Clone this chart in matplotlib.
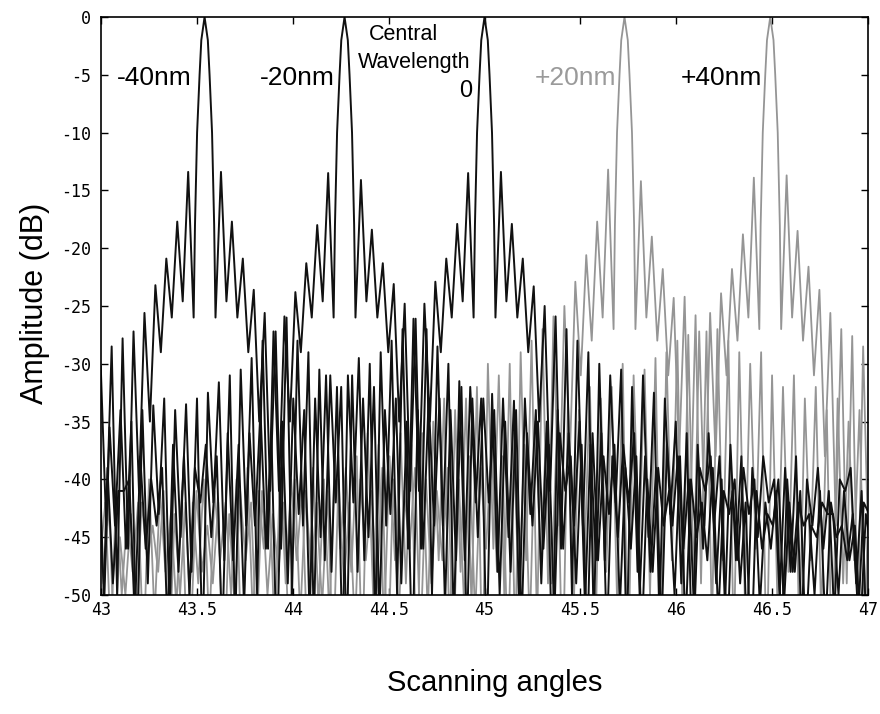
import numpy as np
import matplotlib
matplotlib.use('Agg')
import matplotlib.pyplot as plt

# Picos dos lóbulos laterais (dB), do lóbulo principal para fora
pitch = 0.057  # espaçamento entre lóbulos (graus)
main_lobe_offset = [0.017, 0.026, 0.039, 0.050]
main_lobe_db = [-2, -5, -10, -18]

centers = [43.54, 44.27, 45.0, 45.73, 46.49]

m40_left = [-13.4, -17.7, -20.9, -23.2, -25.6, -27.2, -27.8, -28.5, -30.2, -30.5]
m40_right = [-13.4, -17.7, -20.9, -23.6, -25.6, -27.2, -26.0, -28.0,
             -29, -30.5, -31, -32, -31, -33, -32, -34, -33, -35,
             -34, -33, -33, -34, -32, -33, -33, -34, -35, -34,
             -36, -35, -37, -36, -38, -37, -36, -38, -37, -39,
             -38, -40, -39, -41, -38, -40, -42, -39, -41, -40,
             -42, -41, -43, -40, -42, -41, -44, -42, -43, -41,
             -44, -43, -45]

m20_left = [-13.5, -18, -21.3, -23.8, -25.9, -27.2, -28, -29.5,
            -30.5, -31, -31.6, -32.5, -33, -33.5, -34, -33, -33.6, -34, -35, -34, -35.5, -36, -35]
m20_right = [-14.1, -18.4, -21.3, -23.1, -24.8, -26.1, -27, -28.5,
             -30, -31.5, -32, -33, -32.6, -33, -33.2, -33, -34, -35,
             -34, -36, -35, -37, -36, -38, -37, -36, -38, -39,
             -37, -38, -40, -39, -38, -40, -41, -39, -40, -42,
             -41, -40, -42, -43, -41, -42, -44, -43, -42, -44,
             -45]

c0_left = [-13.5, -17.9, -20.9, -22.9, -24.8, -26.1, -27, -28,
           -29, -30, -29.5, -31, -32, -31, -33, -34, -33, -35,
           -36, -34, -36, -37, -36, -38, -37, -39, -38, -37,
           -39, -40, -38, -40, -41, -39, -40, -42]
c0_right = [-13.4, -17.9, -20.9, -23.3, -25, -25.9, -27, -28,
            -29, -30, -31, -30.5, -32, -31, -32.5, -33, -35, -36,
            -37, -36, -38, -37, -38, -39, -38, -40, -39, -38,
            -40, -39, -41, -40, -39, -41, -40, -42]

p20_left = [-13.2, -17.7, -20.6, -22.9, -25, -25.9, -27, -28,
            -29, -30, -31, -30, -32, -33, -34, -33, -35, -36,
            -37, -36, -38, -37, -36, -38, -39, -38, -40, -39,
            -41, -40, -39, -40, -41, -39, -40, -42, -41, -40,
            -42, -41, -43, -41, -40, -42, -43, -41, -42, -44,
            -42]
p20_right = [-14.2, -19, -21.8, -24.3, -24.2, -25.8, -27.2, -27,
             -28, -29, -30, -29, -31, -32, -31, -33, -32, -34, -33, -35, -34, -35, -36]

p40_left = [-13.9, -18.8, -21.8, -23.9, -25.6, -27.2, -27.5, -28,
            -29, -29.5, -30.5, -31, -30, -32, -33, -32, -34, -33,
            -35, -36, -35, -37, -36, -38, -37, -39, -38, -40,
            -39, -41, -40, -39, -41, -40, -39, -41, -40, -42,
            -40, -41, -42, -41, -40, -42, -43, -41, -42, -41,
            -43, -42, -44, -41, -42, -43, -41, -44, -42, -43,
            -45, -42, -43, -44]
p40_right = [-13.7, -18.5, -21.6, -23.6, -25.6, -27, -27.6, -28.5, -28.5, -29]

# Profundidade dos nulos entre lóbulos
nulls_black = [-26, -24.6, -26, -29, -35, -41, -46, -50, -44, -53, -47, -42, -55, -48, -45, -52,
               -43, -49, -56, -46, -44, -51, -47, -54, -45, -42, -50, -48, -53, -44, -46, -52,
               -41, -49, -55, -47, -43, -51, -46, -54, -48, -44, -50, -53, -45, -47, -52, -43,
               -49, -56, -46, -44, -51, -48, -54, -45, -43, -50, -47, -53, -46, -49, -52, -48]
nulls_gray = [-27, -26, -28, -31, -38, -44, -49, -53, -47, -55, -50, -46, -57, -51, -48, -54,
              -47, -52, -58, -49, -47, -53, -50, -56, -48, -46, -52, -51, -55, -47, -49, -54,
              -46, -52, -57, -50, -47, -53, -49, -56, -51, -48, -52, -55, -48, -50, -54, -47,
              -51, -58, -49, -48, -53, -50, -56, -48, -47, -52, -50, -55, -49, -51, -54, -50]

x_ticks = [43, 43.5, 44, 44.5, 45, 45.5, 46, 46.5, 47]
x_ticklabels = ['43', '43.5', '44', '44.5', '45', '45.5', '46', '46.5', '47']
y_ticks = [0, -5, -10, -15, -20, -25, -30, -35, -40, -45, -50]
y_ticklabels = ['0', '-5', '-10', '-15', '-20', '-25', '-30', '-35', '-40', '-45', '-50']


def lado(peaks, nulls):
    off = list(main_lobe_offset)
    db = list(main_lobe_db)
    for k, pk in enumerate(peaks):
        off += [pitch * (k + 1), pitch * (k + 1.5)]
        db += [nulls[k], pk]
    off.append(pitch * (len(peaks) + 1))
    db.append(nulls[len(peaks)])
    return np.array(off), np.array(db)


def curva(center, left, right, nulls):
    ol, dl = lado(left, nulls)
    orr, dr = lado(right, nulls)
    x = np.concatenate([center - ol[::-1], [center], center + orr])
    y = np.concatenate([dl[::-1], [0.0], dr])
    return x, y


cinza = '#959595'
preto = '#111111'
curvas = [
    (centers[3], p20_left, p20_right, nulls_gray, cinza, 1.3),
    (centers[4], p40_left, p40_right, nulls_gray, cinza, 1.3),
    (centers[0], m40_left, m40_right, nulls_black, preto, 1.4),
    (centers[1], m20_left, m20_right, nulls_black, preto, 1.4),
    (centers[2], c0_left, c0_right, nulls_black, preto, 1.4),
]

fig = plt.figure(figsize=(8.8, 7.14), dpi=100)
ax = fig.add_axes([0.1148, 0.1667, 0.8716, 0.8095])

for c, l, r, n, cor, lw in curvas:
    x, y = curva(c, l, r, n)
    ax.plot(x, y, color=cor, lw=lw)

ax.set_xlim(43, 47)
ax.set_ylim(-50, 0)
ax.set_xticks(x_ticks)
ax.set_xticklabels(x_ticklabels, family='DejaVu Sans Mono', fontsize=12)
ax.set_yticks(y_ticks)
ax.set_yticklabels(y_ticklabels, family='DejaVu Sans Mono', fontsize=12)
ax.tick_params(direction='in', top=True, right=True, length=5, width=1)
ax.tick_params(axis='y', pad=7)
ax.tick_params(axis='x', pad=4)
for s in ax.spines.values():
    s.set_linewidth(1.2)

fonte = 'Liberation Sans'
ax.text(43.276, -5.3, '-40nm', fontsize=19, family=fonte, ha='center', va='center')
ax.text(44.024, -5.3, '-20nm', fontsize=19, family=fonte, ha='center', va='center')
ax.text(44.58, -1.5, 'Central', fontsize=15.5, family=fonte, ha='center', va='center')
ax.text(44.635, -3.9, 'Wavelength', fontsize=15.5, family=fonte, ha='center', va='center')
ax.text(44.90, -6.4, '0', fontsize=17, family=fonte, ha='center', va='center')
ax.text(45.475, -5.3, '+20nm', fontsize=19, family=fonte, ha='center', va='center', color='#9a9a9a')
ax.text(46.236, -5.3, '+40nm', fontsize=19, family=fonte, ha='center', va='center')

fig.text(0.040, 0.575, 'Amplitude (dB)', rotation=90, fontsize=22, family=fonte,
         ha='center', va='center')
fig.text(0.562, 0.043, 'Scanning angles', fontsize=21, family=fonte, ha='center', va='center')

fig.savefig('out.png', dpi=100, facecolor='white')
